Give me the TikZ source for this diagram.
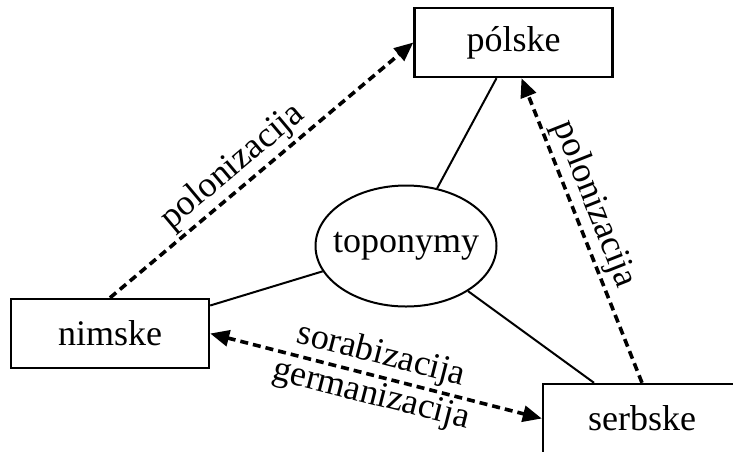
\documentclass[tikz,border=0pt]{standalone}
\usepackage{fontspec}
\setmainfont{Liberation Serif}
\usetikzlibrary{arrows.meta, positioning, shapes.geometric}
\tikzset{>={Triangle[length=19pt,width=16pt]},
    langbox/.style={draw, line width=2.4pt, minimum width=198pt, minimum height=69pt, inner sep=0pt},
    hub/.style={draw, ellipse, line width=2pt, minimum width=181pt, minimum height=121pt, inner xsep=-10pt, inner ysep=0pt},
    link/.style={line width=2pt},
    langshift/.style={line width=3.6pt, dash pattern=on 8pt off 5pt},
    tag/.style={inner sep=3pt}}

\begin{document}
\begin{tikzpicture}[x=1pt, y=-1pt, font=\fontsize{36}{40}\selectfont]
    \path[use as bounding box, clip] (0,0) rectangle (733,451);
    \node[langbox] (polske) at (513.5,42.5) {pólske};
    \node[langbox] (nimske) at (110,333.5) {nimske};
    \node[langbox] (serbske) at (642,418.5) {serbske};
    \node[hub] (toponymy) at (406,246) {toponymy};
    % solid links to the centre
    \draw[link] (toponymy) -- ([xshift=-17pt]polske.south);
    \draw[link] (toponymy) -- ([yshift=28pt]nimske.east);
    \draw[link] (toponymy) -- ([xshift=-48pt]serbske.north);
    % dashed arrows
    \draw[langshift, ->] (nimske.north) -- (polske.west)
        node[tag, pos=0.45, sloped, above]{polonizacija};
    \draw[langshift, ->] (serbske.north) -- ([xshift=8pt]polske.south)
        node[tag, pos=0.56, sloped, above]{polonizacija};
    \draw[langshift, <->] (nimske.east) -- (serbske.west)
        node[tag, pos=0.5, sloped, above]{sorabizacija}
        node[tag, pos=0.5, sloped, below]{germanizacija};
\end{tikzpicture}
\end{document}
